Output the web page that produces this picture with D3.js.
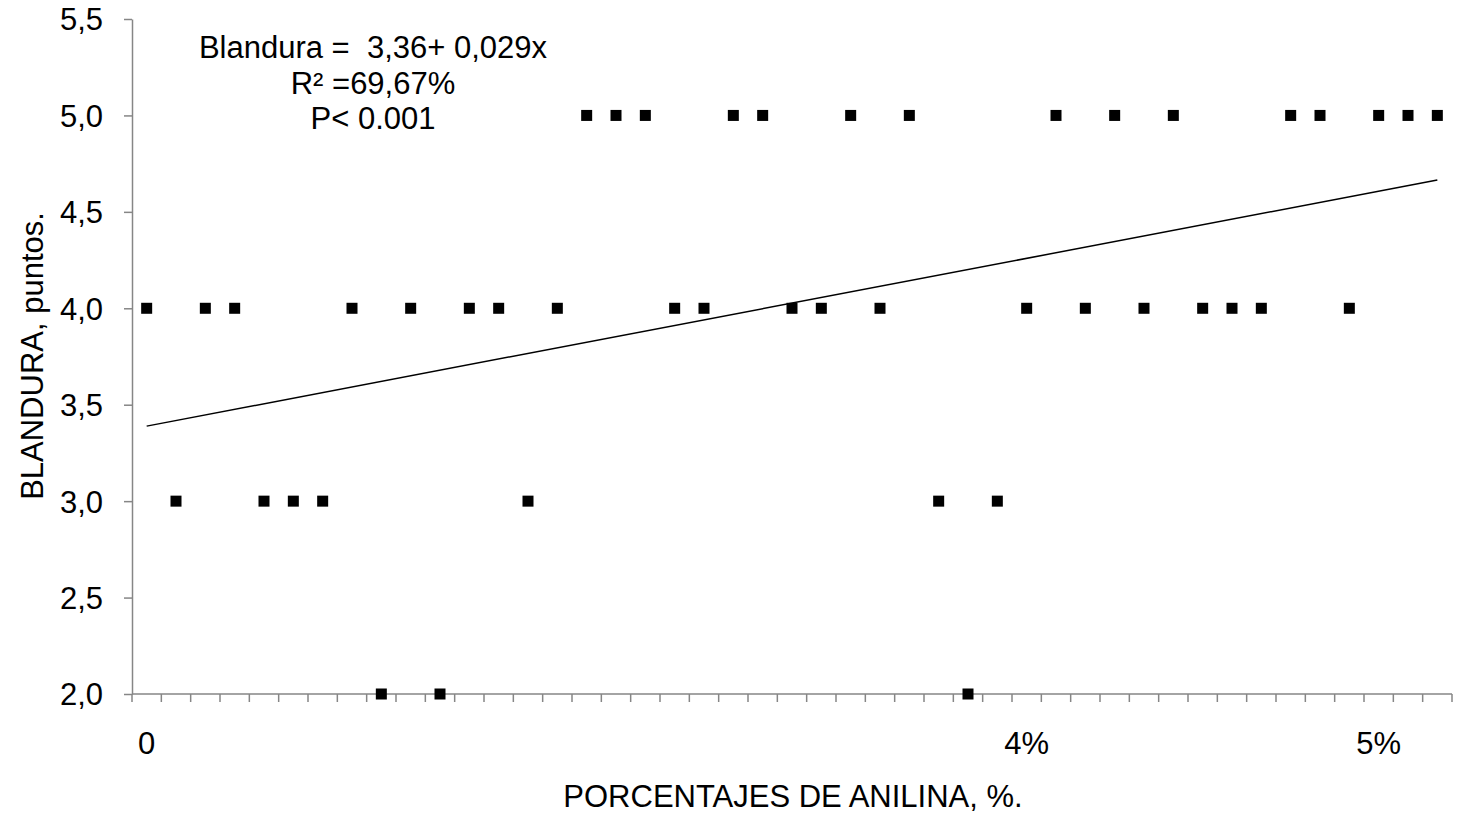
<!DOCTYPE html>
<html>
<head>
<meta charset="utf-8">
<script src="https://cdn.jsdelivr.net/npm/d3@7"></script>
<style>
  html, body { margin: 0; padding: 0; background: #fff; }
  svg text { font-family: "Liberation Sans", Arial, sans-serif; fill: #000; }
</style>
</head>
<body>
<svg id="chart" width="1461" height="813"></svg>
<script>
// Observations: softness score for each sample, in order
const blandura = [4, 3, 4, 4, 3, 3, 3, 4, 2, 4, 2, 4, 4, 3, 4, 5, 5, 5, 4, 4, 5, 5, 4, 4, 5, 4, 5, 3, 2, 3,
                  4, 5, 4, 5, 4, 5, 4, 4, 4, 5, 5, 4, 5, 5, 5];
// Category labels shown along the x axis (most are blank)
const xLabels = blandura.map(() => "");
xLabels[0] = "0";
xLabels[30] = "4%";
xLabels[42] = "5%";
const yTicks = [2.0, 2.5, 3.0, 3.5, 4.0, 4.5, 5.0, 5.5];
// Fitted regression: Blandura = 3,36 + 0,029x
const intercept = 3.36;
const slope = 0.029;
const equationLines = ["Blandura =  3,36+ 0,029x", "R² =69,67%", "P< 0.001"];

const svg = d3.select("#chart");
const m = { left: 132, right: 1452, top: 19, bottom: 694 };
const axisColor = "#868686";
const fs = 31;

const idx = d3.range(blandura.length);
const x = d3.scaleBand().domain(idx).range([m.left, m.right]).padding(0);
const y = d3.scaleLinear().domain([2.0, 5.5]).range([m.bottom, m.top]);
const cx = i => x(i) + x.bandwidth() / 2;
const fmt = d => d3.format(".1f")(d).replace(".", ",");

// Y axis
const yAxis = svg.append("g")
  .attr("transform", `translate(${m.left},0)`)
  .call(d3.axisLeft(y).tickValues(yTicks).tickFormat(fmt).tickSize(8).tickSizeOuter(0));
yAxis.attr("font-size", null).attr("font-family", null);
yAxis.select(".domain").attr("stroke", axisColor).attr("stroke-width", 1.5);
yAxis.selectAll(".tick line").attr("stroke", axisColor).attr("stroke-width", 1.5);
yAxis.selectAll(".tick text").attr("font-size", fs).attr("x", -29).attr("dy", "0.35em")
  .attr("fill", "#000");

// X axis: category boundaries carry the tick marks
const xAxisG = svg.append("g").attr("transform", `translate(0,${m.bottom})`);
xAxisG.append("line").attr("x1", m.left).attr("x2", m.right)
  .attr("stroke", axisColor).attr("stroke-width", 1.5);
const bounds = d3.range(blandura.length + 1).map(i => i < blandura.length ? x(i) : m.right);
xAxisG.selectAll("line.tk").data(bounds).join("line").attr("class", "tk")
  .attr("x1", d => d).attr("x2", d => d).attr("y1", 0).attr("y2", 8)
  .attr("stroke", axisColor).attr("stroke-width", 1.5);
xAxisG.selectAll("text").data(idx.filter(i => xLabels[i] !== "")).join("text")
  .attr("x", i => cx(i)).attr("y", 60).attr("text-anchor", "middle")
  .attr("font-size", fs).text(i => xLabels[i]);

// Trend line
const fit = i => intercept + slope * (i + 1);
svg.append("line")
  .attr("x1", cx(0)).attr("y1", y(fit(0)))
  .attr("x2", cx(blandura.length - 1)).attr("y2", y(fit(blandura.length - 1)))
  .attr("stroke", "#000").attr("stroke-width", 1.5);

// Data markers
const s = 11;
svg.append("g").selectAll("rect").data(blandura).join("rect")
  .attr("x", (d, i) => cx(i) - s / 2).attr("y", d => y(d) - s / 2)
  .attr("width", s).attr("height", s).attr("fill", "#000");

// Equation annotation
svg.append("g").selectAll("text").data(equationLines).join("text")
  .attr("x", 373).attr("y", (d, i) => 58 + i * 35.5)
  .attr("text-anchor", "middle").attr("font-size", fs)
  .style("white-space", "pre").attr("xml:space", "preserve").text(d => d);

// Axis titles
svg.append("text").attr("x", 793).attr("y", 807).attr("text-anchor", "middle")
  .attr("font-size", fs).text("PORCENTAJES DE ANILINA, %.");
svg.append("text").attr("transform", `translate(43,356) rotate(-90)`)
  .attr("text-anchor", "middle").attr("font-size", fs).text("BLANDURA, puntos.");
</script>
</body>
</html>
